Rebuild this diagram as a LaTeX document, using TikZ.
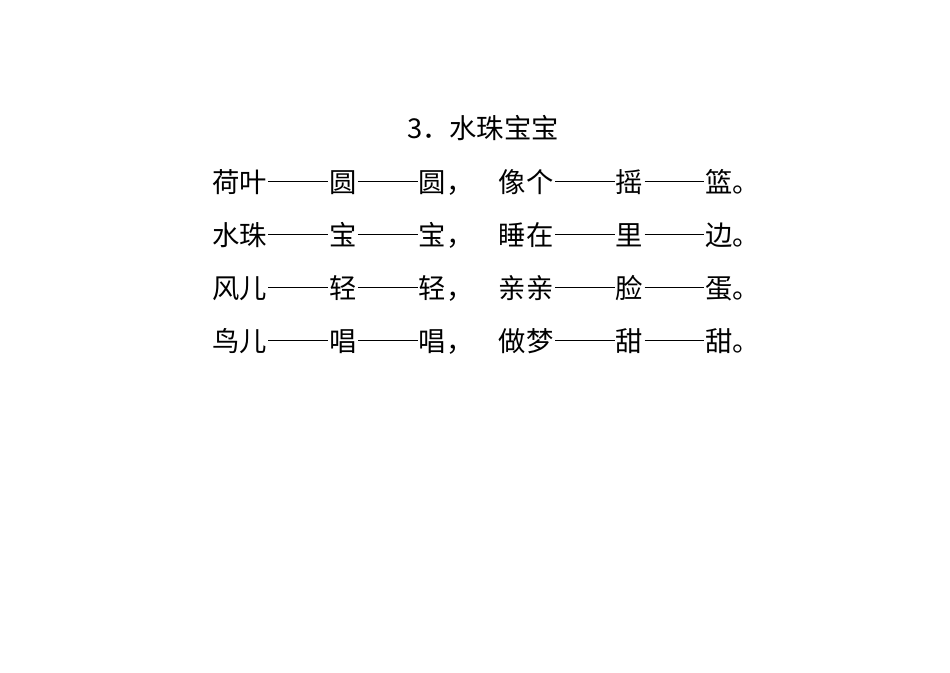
\documentclass[tikz,border=0pt]{standalone}
\usepackage{fontspec}
\newfontfamily\cjk{Noto Sans CJK SC}
\newcommand{\dd}{\hspace{0.05em}\rule[0.36em]{2.18em}{1.3pt}\hspace{0.05em}}
\begin{document}
\begin{tikzpicture}[x=0.75pt,y=-0.75pt,
  line/.style={anchor=west,inner sep=0pt,font=\cjk\fontsize{20.5}{21}\selectfont}]
\useasboundingbox (0,0) rectangle (950,672);
\node[inner sep=0pt,font=\cjk\fontsize{20.5}{21}\selectfont] (title) at (483,128) {3．水珠宝宝};
\node[line] (l1) at (212,182) {荷叶\dd 圆\dd 圆，\hspace{0.93em}像个\dd 摇\dd 篮。};
\node[line] (l2) at (212,235) {水珠\dd 宝\dd 宝，\hspace{0.93em}睡在\dd 里\dd 边。};
\node[line] (l3) at (212,288) {风儿\dd 轻\dd 轻，\hspace{0.93em}亲亲\dd 脸\dd 蛋。};
\node[line] (l4) at (212,341) {鸟儿\dd 唱\dd 唱，\hspace{0.93em}做梦\dd 甜\dd 甜。};
\end{tikzpicture}
\end{document}
